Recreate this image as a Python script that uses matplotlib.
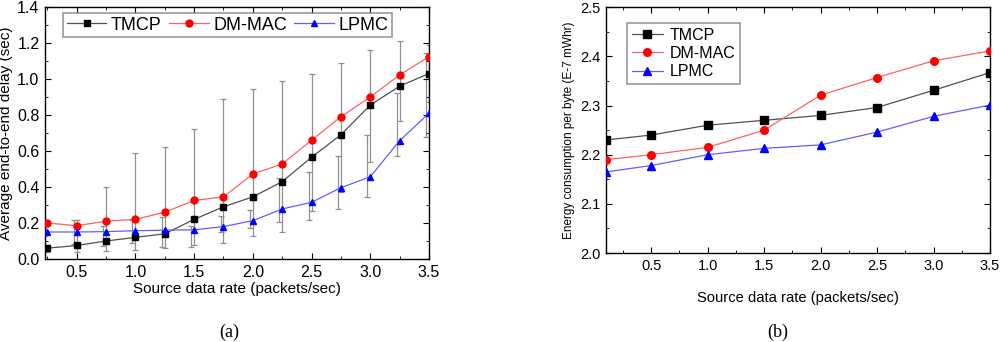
import numpy as np
import matplotlib
matplotlib.use("Agg")
import matplotlib.pyplot as plt
from matplotlib.ticker import MultipleLocator

plt.rcParams['font.family'] = ['Liberation Sans', 'DejaVu Sans']

# ---- (a) delay data
rate_a = np.array([0.25, 0.5, 0.75, 1.0, 1.25, 1.5, 1.75, 2.0, 2.25, 2.5, 2.75, 3.0, 3.25, 3.5])
delay_tmcp = np.array([0.06, 0.075, 0.10, 0.12, 0.14, 0.22, 0.29, 0.345, 0.43, 0.565, 0.69, 0.855, 0.96, 1.03])
delay_dmmac = np.array([0.20, 0.185, 0.21, 0.22, 0.26, 0.325, 0.345, 0.472, 0.528, 0.66, 0.79, 0.90, 1.022, 1.124])
delay_lpmc = np.array([0.15, 0.15, 0.152, 0.157, 0.16, 0.162, 0.18, 0.213, 0.278, 0.315, 0.396, 0.457, 0.657, 0.81])
# error ranges (low/high)
err_a_lo = np.array([0.04, 0.04, 0.043, 0.05, 0.06, 0.078, 0.09, 0.128, 0.148, 0.268, 0.37, 0.54, 0.768, 0.87])
err_a_hi = np.array([0.08, 0.215, 0.40, 0.587, 0.624, 0.722, 0.887, 0.943, 0.99, 1.03, 1.09, 1.16, 1.213, 1.19])
err_b_lo = np.array([0.13, 0.085, 0.072, 0.09, 0.068, 0.068, 0.148, 0.17, 0.207, 0.215, 0.28, 0.346, 0.572, 0.68])
err_b_hi = np.array([0.17, 0.215, 0.183, 0.215, 0.235, 0.185, 0.239, 0.27, 0.45, 0.485, 0.572, 0.69, 0.92, 1.143])

# ---- (b) energy data
rate_b = np.array([0.1, 0.5, 1.0, 1.5, 2.0, 2.5, 3.0, 3.5])
energy_tmcp = np.array([2.23, 2.24, 2.26, 2.27, 2.28, 2.296, 2.331, 2.367])
energy_dmmac = np.array([2.19, 2.20, 2.215, 2.25, 2.321, 2.357, 2.391, 2.411])
energy_lpmc = np.array([2.165, 2.178, 2.20, 2.213, 2.22, 2.246, 2.278, 2.301])

names = ['TMCP', 'DM-MAC', 'LPMC']
line_cols = ['#505050', '#ff6060', '#6060ff']
mark_cols = ['black', 'red', 'blue']
marks = ['s', 'o', '^']

fig = plt.figure(figsize=(10, 3.42), dpi=100)

def style_axes(ax, fs):
    ax.tick_params(which='both', direction='in', top=True, right=True, labelsize=fs)
    ax.tick_params(which='major', length=4, pad=4)
    ax.tick_params(which='minor', length=2.5)
    for s in ax.spines.values():
        s.set_linewidth(1.0)

# (a)
ax1 = fig.add_axes([0.045, 0.2427, 0.384, 0.737])
ax1.errorbar(rate_a, (err_a_lo + err_a_hi) / 2, yerr=(err_a_hi - err_a_lo) / 2, fmt='none',
             ecolor='#909090', elinewidth=0.9, capsize=2.5, capthick=0.9, zorder=1)
ax1.errorbar(rate_a - 0.025, (err_b_lo + err_b_hi) / 2, yerr=(err_b_hi - err_b_lo) / 2, fmt='none',
             ecolor='#909090', elinewidth=0.9, capsize=2.5, capthick=0.9, zorder=1)
for y, n, lc, mc, m in zip([delay_tmcp, delay_dmmac, delay_lpmc], names, line_cols, mark_cols, marks):
    ax1.plot(rate_a, y, color=lc, lw=0.9, marker=m, ms=5, mfc=mc, mec=mc, label=n, zorder=3)
ax1.set_xlim(0.23, 3.5)
ax1.set_ylim(0, 1.4)
ax1.xaxis.set_minor_locator(MultipleLocator(0.25))
ax1.yaxis.set_major_locator(MultipleLocator(0.2))
ax1.yaxis.set_minor_locator(MultipleLocator(0.1))
ax1.set_xticks([0.5, 1.0, 1.5, 2.0, 2.5, 3.0, 3.5])
ax1.set_xlabel('Source data rate (packets/sec)', fontsize=11, labelpad=2)
ax1.set_ylabel('Average end-to-end delay (sec)', fontsize=11, labelpad=3)
style_axes(ax1, 11.5)
leg1 = ax1.legend(ncol=3, loc='upper left', bbox_to_anchor=(0.047, 0.976), fontsize=13,
                  frameon=True, fancybox=False, edgecolor='#808080', handlelength=2.2,
                  columnspacing=0.4, handletextpad=0.25, borderpad=0.2, borderaxespad=0)
leg1.get_frame().set_linewidth(1.2)

# (b)
ax2 = fig.add_axes([0.606, 0.260, 0.384, 0.719])
for y, n, lc, mc, m in zip([energy_tmcp, energy_dmmac, energy_lpmc], names, line_cols, mark_cols, marks):
    ax2.plot(rate_b, y, color=lc, lw=0.9, marker=m, ms=5.5, mfc=mc, mec=mc, label=n, zorder=3)
ax2.set_xlim(0.1, 3.5)
ax2.set_ylim(2.0, 2.5)
ax2.xaxis.set_minor_locator(MultipleLocator(0.25))
ax2.yaxis.set_major_locator(MultipleLocator(0.1))
ax2.yaxis.set_minor_locator(MultipleLocator(0.05))
ax2.set_xticks([0.5, 1.0, 1.5, 2.0, 2.5, 3.0, 3.5])
ax2.set_xlabel('Source data rate (packets/sec)', fontsize=10.6, labelpad=13)
ax2.set_ylabel('Energy consumption per byte (E-7 mWhr)', fontsize=8.5, labelpad=4)
style_axes(ax2, 10.5)
leg2 = ax2.legend(loc='upper left', bbox_to_anchor=(0.054, 0.936), fontsize=11.5,
                  frameon=True, fancybox=False, edgecolor='#808080', handlelength=2.0,
                  handletextpad=0.4, borderpad=0.3, labelspacing=0.2, borderaxespad=0)
leg2.get_frame().set_linewidth(1.2)

fig.text(0.229, 0.015, '(a)', family='Liberation Serif', fontsize=13, ha='center')
fig.text(0.778, 0.015, '(b)', family='Liberation Serif', fontsize=13, ha='center')

fig.savefig('out.png', dpi=100)
